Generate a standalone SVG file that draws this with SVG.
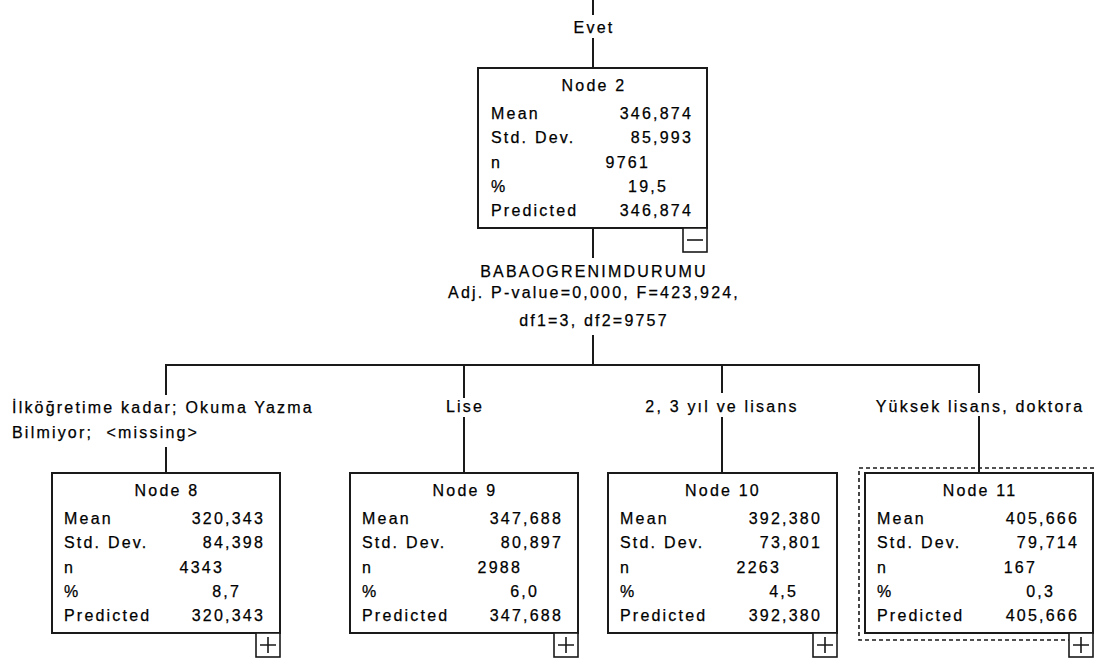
<svg xmlns="http://www.w3.org/2000/svg" width="1096" height="666" viewBox="0 0 1096 666">
<style>
text{font-family:"Liberation Sans",Arial,sans-serif;font-size:16px;fill:#000;letter-spacing:2.2px;stroke:#000;stroke-width:0.25}
.m{text-anchor:middle}
.e{text-anchor:end}
.box{fill:#fff;stroke:#1a1a1a;stroke-width:2}
.btn{fill:#fff;stroke:#1a1a1a;stroke-width:1.6}
.sign{stroke:#1a1a1a;stroke-width:1.6;fill:none}
#connectors line{stroke:#1a1a1a;stroke-width:2}
</style>
<rect width="1096" height="666" fill="#fff"/>
<g id="connectors">
<line x1="593" y1="0" x2="593" y2="15"/>
<line x1="593" y1="38" x2="593" y2="68"/>
<line x1="593" y1="228" x2="593" y2="258"/>
<line x1="593" y1="335" x2="593" y2="365"/>
<line x1="165" y1="365" x2="980" y2="365"/>
<line x1="166" y1="365" x2="166" y2="395"/>
<line x1="166" y1="447" x2="166" y2="473"/>
<line x1="464" y1="365" x2="464" y2="398"/>
<line x1="464" y1="417" x2="464" y2="473"/>
<line x1="722" y1="365" x2="722" y2="393"/>
<line x1="722" y1="417" x2="722" y2="473"/>
<line x1="979" y1="365" x2="979" y2="393"/>
<line x1="979" y1="416" x2="979" y2="473"/>
</g>
<g id="labels">
<text class="m" x="594" y="33">Evet</text>
<text class="m" x="594" y="277">BABAOGRENIMDURUMU</text>
<text class="m" x="594" y="298">Adj. P-value=0,000, F=423,924,</text>
<text class="m" x="594" y="326">df1=3, df2=9757</text>
<text x="12" y="413">İlköğretime kadar; Okuma Yazma</text>
<text x="12" y="438">Bilmiyor;&#160; &lt;missing&gt;</text>
<text class="m" x="465" y="412">Lise</text>
<text class="m" x="722" y="412">2, 3 yıl ve lisans</text>
<text class="m" x="980" y="412">Yüksek lisans, doktora</text>
</g>
<g id="node2">
<rect class="box" x="478" y="68" width="229" height="160"/>
<text class="m" x="594" y="91">Node 2</text>
<text x="491" y="119">Mean</text><text class="e" x="693" y="119">346,874</text>
<text x="491" y="143">Std. Dev.</text><text class="e" x="693" y="143">85,993</text>
<text x="491" y="168">n</text><text class="e" x="650" y="168">9761</text>
<text x="491" y="192">%</text><text class="e" x="668" y="192">19,5</text>
<text x="491" y="216">Predicted</text><text class="e" x="693" y="216">346,874</text>
<rect class="btn" x="683" y="228" width="24" height="24"/>
<line class="sign" x1="687" y1="240" x2="703" y2="240"/>
</g>
<g id="node8">
<rect class="box" x="52" y="473" width="228" height="160"/>
<text class="m" x="167" y="496">Node 8</text>
<text x="64" y="524">Mean</text><text class="e" x="265" y="524">320,343</text>
<text x="64" y="548">Std. Dev.</text><text class="e" x="265" y="548">84,398</text>
<text x="64" y="573">n</text><text class="e" x="224" y="573">4343</text>
<text x="64" y="597">%</text><text class="e" x="241" y="597">8,7</text>
<text x="64" y="621">Predicted</text><text class="e" x="265" y="621">320,343</text>
<rect class="btn" x="256" y="633" width="24" height="24"/>
<path class="sign" d="M260 645H276M268 637V653"/>
</g>
<g id="node9">
<rect class="box" x="350" y="473" width="228" height="160"/>
<text class="m" x="465" y="496">Node 9</text>
<text x="362" y="524">Mean</text><text class="e" x="563" y="524">347,688</text>
<text x="362" y="548">Std. Dev.</text><text class="e" x="563" y="548">80,897</text>
<text x="362" y="573">n</text><text class="e" x="522" y="573">2988</text>
<text x="362" y="597">%</text><text class="e" x="539" y="597">6,0</text>
<text x="362" y="621">Predicted</text><text class="e" x="563" y="621">347,688</text>
<rect class="btn" x="554" y="633" width="24" height="24"/>
<path class="sign" d="M558 645H574M566 637V653"/>
</g>
<g id="node10">
<rect class="box" x="608" y="473" width="229" height="160"/>
<text class="m" x="723" y="496">Node 10</text>
<text x="620" y="524">Mean</text><text class="e" x="822" y="524">392,380</text>
<text x="620" y="548">Std. Dev.</text><text class="e" x="822" y="548">73,801</text>
<text x="620" y="573">n</text><text class="e" x="781" y="573">2263</text>
<text x="620" y="597">%</text><text class="e" x="798" y="597">4,5</text>
<text x="620" y="621">Predicted</text><text class="e" x="822" y="621">392,380</text>
<rect class="btn" x="813" y="633" width="24" height="24"/>
<path class="sign" d="M817 645H833M825 637V653"/>
</g>
<g id="node11">
<rect x="859" y="468" width="241" height="172" fill="none" stroke="#1a1a1a" stroke-width="1.6" stroke-dasharray="4,3"/>
<rect class="box" x="865" y="473" width="228" height="160"/>
<text class="m" x="980" y="496">Node 11</text>
<text x="877" y="524">Mean</text><text class="e" x="1079" y="524">405,666</text>
<text x="877" y="548">Std. Dev.</text><text class="e" x="1079" y="548">79,714</text>
<text x="877" y="573">n</text><text class="e" x="1037" y="573">167</text>
<text x="877" y="597">%</text><text class="e" x="1055" y="597">0,3</text>
<text x="877" y="621">Predicted</text><text class="e" x="1079" y="621">405,666</text>
<rect class="btn" x="1069" y="633" width="24" height="24"/>
<path class="sign" d="M1073 645H1089M1081 637V653"/>
</g>
</svg>
